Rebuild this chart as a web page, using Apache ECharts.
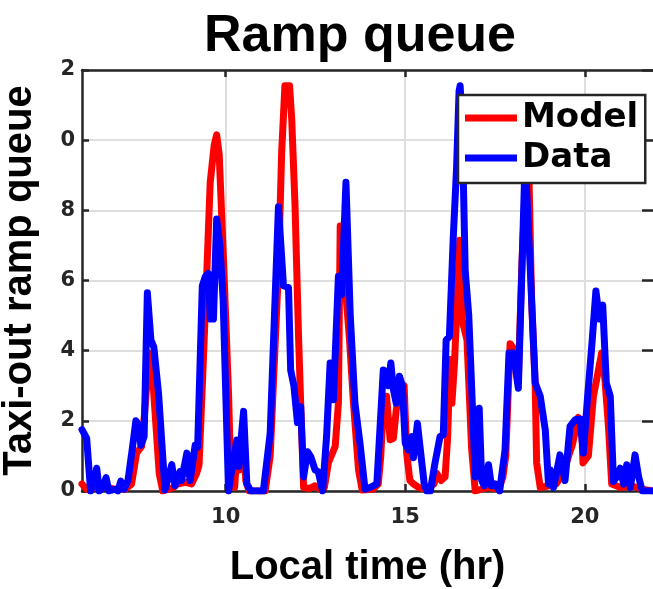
<!DOCTYPE html>
<html>
<head>
<meta charset="utf-8">
<script src="https://cdn.jsdelivr.net/npm/echarts@6/dist/echarts.min.js"></script>
<style>
  html, body { margin: 0; padding: 0; background: #fff; }
  #chart { width: 653px; height: 589px; }
</style>
</head>
<body>
<div id="chart"></div>
<script>
// Hourly ramp queue, model vs observed (local time in hours)
const modelTime = [6.00,6.05,6.13,6.40,6.70,6.90,7.20,7.38,7.52,7.66,7.75,7.87,7.95,8.03,8.15,8.25,8.55,8.65,8.87,9.05,9.19,9.26,9.38,9.47,9.57,9.68,9.75,9.82,9.94,10.08,10.15,10.25,10.32,10.38,10.48,10.56,10.65,11.10,11.24,11.47,11.56,11.65,11.78,11.84,11.93,12.03,12.09,12.17,12.33,12.49,12.62,12.75,12.86,13.05,13.14,13.19,13.27,13.35,13.45,13.56,13.70,13.80,14.10,14.25,14.32,14.40,14.48,14.58,14.67,14.75,14.85,14.97,15.04,15.13,15.23,15.37,15.60,15.80,15.88,16.00,16.11,16.18,16.25,16.30,16.37,16.45,16.52,16.58,16.65,16.72,16.85,16.95,17.30,17.60,17.72,17.80,17.92,18.06,18.15,18.25,18.38,18.45,18.52,18.62,18.66,18.76,19.00,19.20,19.40,19.55,19.65,19.82,19.92,19.95,20.10,20.24,20.33,20.47,20.56,20.66,20.75,21.00,21.30,21.60,21.90];
const modelQueue = [0.2,0.25,0.05,0.1,0.1,0.05,0.05,0.2,1.08,1.27,2.3,3.93,3.5,2.3,0.5,0,0.1,0.2,0.25,0.2,0.5,0.75,3.75,6.1,8.8,9.85,10.15,9.6,6.6,2.8,0.2,0.1,1.2,0.6,1.8,0.3,0,0,1.0,6.3,9.65,11.55,11.55,10.6,8.2,4.4,2.5,0.1,0.07,0.15,0.05,0.1,0.8,1.27,2.5,7.55,5.8,5.6,4.3,2.5,0.6,0.03,0.05,0.2,1.0,2.7,2.7,1.46,1.5,2.3,2.9,3.0,1.08,0.3,0.2,0.1,0.05,0.2,0.5,0.3,0.4,1.5,3.75,2.5,3.6,5.5,7.15,4.9,4.6,4.3,1.2,0,0.1,0.05,0.4,1.0,4.2,4.0,3.2,6.5,9.4,8.8,5.4,3.0,0.8,0.1,0.15,0.2,0.5,1.0,1.3,2.1,1.65,0.8,1.0,2.7,3.17,3.93,3.2,1.84,0.2,0.1,0.15,0.05,0];

const dataTime = [6.00,6.05,6.13,6.24,6.33,6.41,6.48,6.58,6.67,6.75,6.92,7.00,7.08,7.17,7.28,7.40,7.50,7.57,7.64,7.73,7.82,7.92,8.00,8.13,8.31,8.35,8.50,8.59,8.73,8.77,8.92,9.01,9.15,9.22,9.35,9.43,9.52,9.57,9.66,9.75,9.84,9.93,10.08,10.17,10.31,10.36,10.50,10.59,10.70,11.05,11.24,11.47,11.52,11.61,11.75,11.81,11.90,12.00,12.09,12.17,12.28,12.37,12.49,12.58,12.70,12.81,12.91,13.00,13.14,13.23,13.35,13.47,13.60,13.74,13.88,14.02,14.21,14.39,14.46,14.53,14.60,14.67,14.75,14.84,14.92,15.00,15.09,15.18,15.23,15.34,15.40,15.53,15.60,15.70,15.83,15.97,16.06,16.14,16.23,16.34,16.43,16.50,16.53,16.59,16.67,16.72,16.77,16.95,17.06,17.13,17.20,17.32,17.40,17.50,17.63,17.78,17.89,18.01,18.15,18.25,18.34,18.48,18.62,18.76,18.90,18.99,19.04,19.13,19.31,19.45,19.59,19.73,19.87,19.96,20.08,20.20,20.31,20.41,20.50,20.60,20.71,20.80,20.89,20.99,21.08,21.17,21.27,21.40,21.50,21.60,21.90];
const dataQueue = [1.75,1.72,1.5,0,0.2,0.65,0,0.1,0.38,0,0.05,0,0.28,0.05,0.3,1.2,2.0,1.9,1.3,1.55,5.65,4.3,4.1,2.8,0.03,0,0.75,0.15,0.55,0.3,1.08,0.3,1.3,1.25,5.85,6.1,6.2,4.9,4.9,7.75,7.0,5.45,0,0.6,1.45,0.7,2.27,0.2,0,0,1.65,8.1,8.12,5.85,5.8,3.45,3.0,1.95,2.4,0.4,1.12,0.98,0.6,0.55,0,1.55,3.65,2.6,6.12,5.6,8.8,5.0,2.5,1.37,0.05,0.1,0.2,3.45,3.4,3.0,3.65,2.9,2.5,3.27,3.0,1.37,1.17,1.55,0.95,1.93,1.37,0.2,0,0,0.8,1.55,1.6,4.3,4.4,7.27,9.2,11.4,11.55,10.3,6.3,6.3,5.0,0.4,2.36,0.3,0.15,0.75,0.15,0.2,0,1.17,3.93,3.93,2.93,6.3,9.5,6.4,3.08,2.7,1.74,0.2,0.6,0.1,1.03,0.3,1.84,2.03,2.05,1.08,2.7,4.2,5.7,4.9,5.3,3.08,2.7,0.27,0.4,0.65,0.2,0.75,0.1,1.03,0.4,0,0];

const xTickValues = [10, 15, 20];
const yTickValues = [0, 2, 4, 6, 8, 10, 12];
const yTickLabels = ['0', '2', '4', '6', '8', '0', '2'];

const seriesNames = ['Model', 'Data'];

const pairs = (xs, ys) => xs.map((x, i) => [x, ys[i]]);

const axisColor = '#262626';
const gridColor = '#dedede';
const tickFont = { fontFamily: 'DejaVu Sans', fontWeight: 'bold', fontSize: 21, color: axisColor };
const titleFont = 'Liberation Sans';

const chart = echarts.init(document.getElementById('chart'), null, { renderer: 'canvas' });

chart.setOption({
  animation: false,
  backgroundColor: '#ffffff',
  title: {
    text: 'Ramp queue',
    left: 355,
    textAlign: 'center',
    top: 6,
    textStyle: { fontFamily: titleFont, fontWeight: 'bold', fontSize: 52, color: '#000' }
  },
  legend: {
    orient: 'vertical',
    left: 458,
    top: 95,
    data: seriesNames,
    icon: 'rect',
    itemWidth: 52,
    itemHeight: 7,
    itemGap: 6,
    padding: [6, 7, 8, 7],
    borderColor: axisColor,
    borderWidth: 2.5,
    borderRadius: 0,
    backgroundColor: '#ffffff',
    textStyle: { fontFamily: 'DejaVu Sans', fontWeight: 'bold', fontSize: 34, color: '#000' }
  },
  grid: { left: 82, top: 70, right: 0, bottom: 98, containLabel: false, outerBoundsMode: 'none' },
  xAxis: [
    {
      type: 'value',
      min: 6,
      max: 21.9,
      position: 'bottom',
      name: 'Local time (hr)',
      nameLocation: 'middle',
      nameGap: 57,
      nameTextStyle: { fontFamily: titleFont, fontWeight: 'bold', fontSize: 40, color: '#000' },
      axisLine: { show: true, onZero: false, lineStyle: { color: axisColor, width: 2.5 } },
      axisTick: { show: true, inside: true, length: 7, customValues: xTickValues, lineStyle: { color: axisColor, width: 2.5 } },
      axisLabel: Object.assign({ show: true, margin: 16, customValues: xTickValues }, tickFont),
      splitLine: { show: true, lineStyle: { color: gridColor, width: 2 } }
    },
    {
      type: 'value',
      min: 6,
      max: 21.9,
      position: 'top',
      axisLine: { show: true, onZero: false, lineStyle: { color: axisColor, width: 2.5 } },
      axisTick: { show: true, inside: true, length: 7, customValues: xTickValues, lineStyle: { color: axisColor, width: 2.5 } },
      axisLabel: { show: false, customValues: xTickValues },
      splitLine: { show: false }
    }
  ],
  yAxis: [
    {
      type: 'value',
      min: 0,
      max: 12,
      interval: 2,
      position: 'left',
      name: 'Taxi-out ramp queue',
      nameLocation: 'middle',
      nameGap: 42,
      nameTextStyle: { fontFamily: titleFont, fontWeight: 'bold', fontSize: 40, color: '#000' },
      axisLine: { show: true, onZero: false, lineStyle: { color: axisColor, width: 2.5 } },
      axisTick: { show: true, inside: true, length: 7, lineStyle: { color: axisColor, width: 2.5 } },
      axisLabel: Object.assign({
        show: true,
        margin: 7,
        formatter: v => yTickLabels[yTickValues.indexOf(v)]
      }, tickFont),
      splitLine: { show: true, lineStyle: { color: gridColor, width: 2 } }
    },
    {
      type: 'value',
      min: 0,
      max: 12,
      interval: 2,
      position: 'right',
      axisLine: { show: false },
      axisTick: { show: true, inside: true, length: 11, lineStyle: { color: axisColor, width: 2.5 } },
      axisLabel: { show: false },
      splitLine: { show: false }
    }
  ],
  series: [
    {
      name: seriesNames[0],
      type: 'line',
      xAxisIndex: 0,
      yAxisIndex: 0,
      data: pairs(modelTime, modelQueue),
      showSymbol: false,
      symbol: 'none',
      color: '#ff0000',
      lineStyle: { color: '#ff0000', width: 7, join: 'round', cap: 'round' },
      z: 2
    },
    {
      name: seriesNames[1],
      type: 'line',
      xAxisIndex: 0,
      yAxisIndex: 0,
      data: pairs(dataTime, dataQueue),
      showSymbol: false,
      symbol: 'none',
      color: '#0000ff',
      lineStyle: { color: '#0000ff', width: 7, join: 'round', cap: 'round' },
      z: 3
    }
  ]
});
</script>
</body>
</html>
